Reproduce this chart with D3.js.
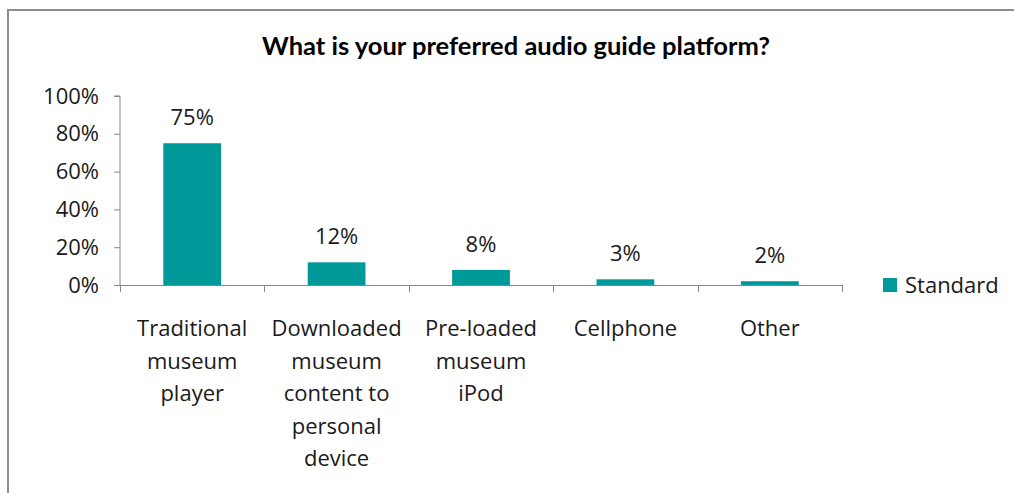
<!DOCTYPE html>
<html>
<head>
<meta charset="utf-8">
<script src="https://cdn.jsdelivr.net/npm/d3@7"></script>
<style>
  html, body { margin: 0; padding: 0; background: #fff; }
  svg { display: block; font-family: "Open Sans", sans-serif; }
</style>
</head>
<body>
<svg id="chart" width="1014" height="493"></svg>
<script>
// Survey results: preferred audio guide platform
const chartTitle = "What is your preferred audio guide platform?";
const categories = [
  "Traditional\nmuseum\nplayer",
  "Downloaded\nmuseum\ncontent to\npersonal\ndevice",
  "Pre-loaded\nmuseum\niPod",
  "Cellphone",
  "Other"
];
const values = [75, 12, 8, 3, 2];
const seriesName = "Standard";
const yTicks = [0, 20, 40, 60, 80, 100];

const svg = d3.select("#chart");
const W = 1014, H = 493;
const barColor = "#009999";
const axisColor = "#868686";
const textColor = "#1a1a1a";
const fs = 22;

// frame
svg.append("rect").attr("x", 8).attr("y", 10).attr("width", W + 10).attr("height", H + 10)
  .attr("fill", "#fff").attr("stroke", "#8c8c8c").attr("stroke-width", 2);

// title, sized to its slot above the plot
const title = svg.append("text")
  .attr("x", 516).attr("y", 55)
  .attr("text-anchor", "middle")
  .attr("font-family", "Lato, sans-serif")
  .attr("font-weight", "bold")
  .attr("font-size", 20)
  .attr("fill", "#000")
  .text(chartTitle);
const tw = title.node().getComputedTextLength();
title.attr("font-size", 20 * 508 / tw);

const plot = { left: 120, right: 842, top: 96, bottom: 285 };

const x = d3.scaleBand().domain(categories).range([plot.left, plot.right]).paddingInner(0.6).paddingOuter(0.3);
const y = d3.scaleLinear().domain([0, 100]).range([plot.bottom, plot.top]);

// y axis
const yAxis = svg.append("g").attr("transform", `translate(${plot.left},0)`)
  .call(d3.axisLeft(y).tickValues(yTicks).tickSize(6).tickPadding(15).tickFormat(d => d + "%"));
yAxis.select(".domain").attr("stroke", axisColor).attr("d", `M-6,${plot.top}H0V${plot.bottom}`);
yAxis.selectAll(".tick line").attr("stroke", axisColor);
yAxis.selectAll(".tick text").attr("font-size", fs).attr("fill", textColor)
  .attr("font-family", "'Open Sans', sans-serif");

// x axis with boundary ticks between categories
const step = (plot.right - plot.left) / categories.length;
const xg = svg.append("g");
xg.append("line").attr("x1", plot.left).attr("x2", plot.right)
  .attr("y1", plot.bottom + 0.5).attr("y2", plot.bottom + 0.5).attr("stroke", axisColor);
d3.range(categories.length + 1).forEach(i => {
  const px = Math.round(plot.left + i * step) + 0.5;
  xg.append("line").attr("x1", px).attr("x2", px)
    .attr("y1", plot.bottom).attr("y2", plot.bottom + 7).attr("stroke", axisColor);
});

// bars
svg.append("g").selectAll("rect").data(values).join("rect")
  .attr("x", (d, i) => x(categories[i]))
  .attr("width", x.bandwidth())
  .attr("y", d => y(d))
  .attr("height", d => y(0) - y(d))
  .attr("fill", barColor);

// value labels
svg.append("g").selectAll("text").data(values).join("text")
  .attr("x", (d, i) => x(categories[i]) + x.bandwidth() / 2)
  .attr("y", d => y(d) - 18)
  .attr("text-anchor", "middle")
  .attr("font-size", fs)
  .attr("fill", textColor)
  .text(d => d + "%");

// category labels
categories.forEach((c, i) => {
  const cx = x(c) + x.bandwidth() / 2;
  const t = svg.append("text")
    .attr("x", cx)
    .attr("y", 336)
    .attr("text-anchor", "middle")
    .attr("font-size", fs)
    .attr("fill", textColor);
  c.split("\n").forEach((line, j) => {
    t.append("tspan").attr("x", cx).attr("dy", j === 0 ? 0 : 32.5).text(line);
  });
});

// legend
const lg = svg.append("g");
lg.append("rect").attr("x", 883).attr("y", 278).attr("width", 14).attr("height", 14).attr("fill", barColor);
lg.append("text").attr("x", 905).attr("y", 293).attr("font-size", fs).attr("fill", textColor).text(seriesName);
</script>
</body>
</html>
